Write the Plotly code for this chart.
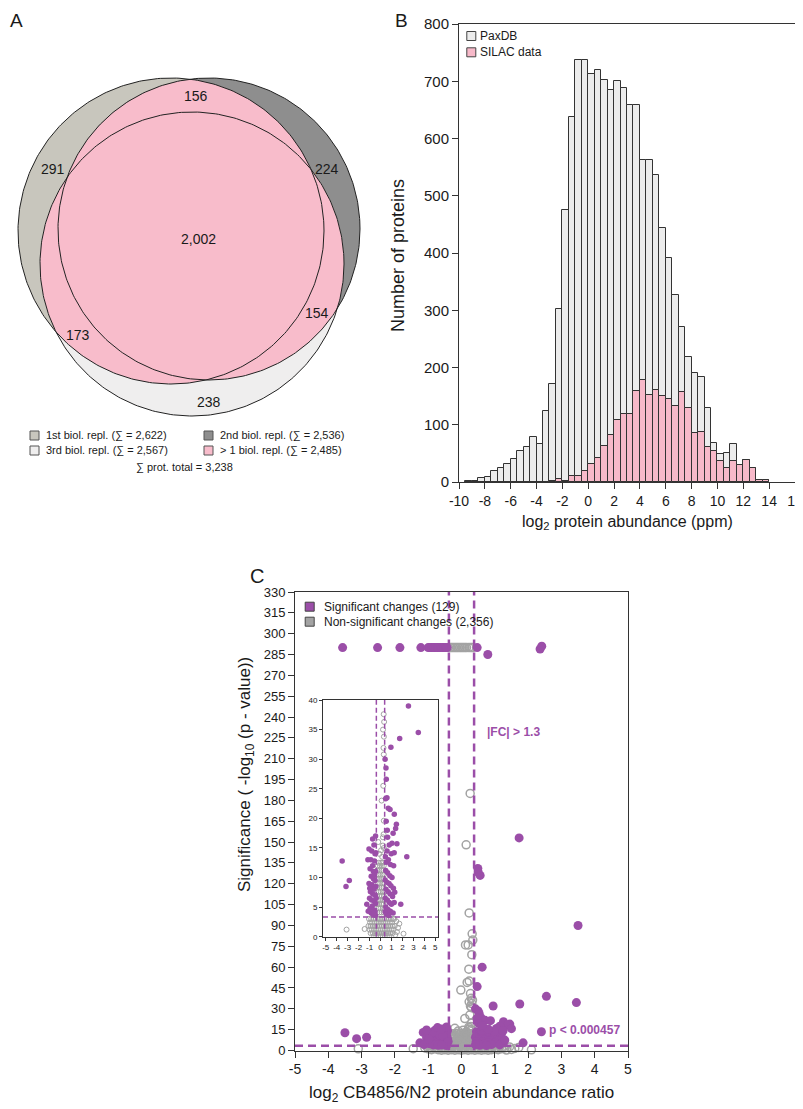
import numpy as np
import plotly.graph_objects as go

# The page body adds an 8px margin; the figure is sized/offset so that
# positions below are in the 803x1109 window's pixel coordinates.
OFF = 8
W, H = 803 - OFF, 1109 - OFF
FONT = "Liberation Sans, Arial, Helvetica, sans-serif"
TXT = "#1a1a1a"

# ---------------- Panel A : Venn diagram ----------------
venn_counts = ["291", "156", "224", "2,002", "173", "154", "238"]
venn_legend = ["1st biol. repl. (∑ = 2,622)", "2nd biol. repl. (∑ = 2,536)",
               "3rd biol. repl. (∑ = 2,567)", "> 1 biol. repl. (∑ = 2,485)"]
venn_total = "∑ prot. total = 3,238"
venn_colors = ["#c8c6bd", "#8e8e8e", "#efeeee", "#f8bccb"]

# ---------------- Panel B : histogram ----------------
bin_left = [-9.5, -9.0, -8.5, -8.0, -7.5, -7.0, -6.5, -6.0, -5.5, -5.0, -4.5, -4.0, -3.5,
            -3.0, -2.5, -2.0, -1.5, -1.0, -0.5, 0.0, 0.5, 1.0, 1.5, 2.0, 2.5, 3.0, 3.5,
            4.0, 4.5, 5.0, 5.5, 6.0, 6.5, 7.0, 7.5, 8.0, 8.5, 9.0, 9.5, 10.0, 10.5, 11.0,
            11.5, 12.0, 12.5, 13.0, 13.5]
paxdb_counts = [2, 2, 7, 8, 20, 24, 31, 40, 55, 62, 79, 67, 124,
                171, 303, 475, 638, 738, 738, 713, 719, 703, 684, 700, 689, 658, 658,
                562, 562, 536, 443, 391, 327, 270, 218, 190, 184, 129, 68, 49, 51, 66,
                30, 39, 25, 4, 3]
silac_counts = [0, 0, 0, 0, 0, 0, 0, 0, 0, 0, 0, 0, 0,
                1, 5, 2, 10, 11, 20, 31, 42, 63, 82, 109, 118, 119, 159,
                178, 152, 160, 151, 145, 133, 158, 129, 86, 87, 62, 54, 37, 25, 37,
                30, 39, 25, 4, 3]
hist_names = ["PaxDB", "SILAC data"]
hist_xticks = [-10, -8, -6, -4, -2, 0, 2, 4, 6, 8, 10, 12, 14, 16]

# ---------------- Panel C : volcano ----------------
sig_x = [-3.57, -2.52, -1.85, -1.22, -1.00, -0.95, -0.90, -0.86, -0.82, -0.77, -0.72, -0.68,
         -0.63, -0.58, -0.53, -0.48, -0.43, 0.47, 0.79, 2.36, 2.41,
         1.73, 3.50, 0.49, 0.50, 0.56, 0.62, 0.47,
         2.55, 3.45, 1.75, 0.95, 0.42, 0.50, 0.53, 0.59, 0.47, 0.71, 0.87, 1.26, 1.45, 1.38,
         1.15, 1.05, 1.50, 2.40, 1.85, -3.50, -3.15, -2.85, -1.15, -1.25, -0.80, -0.50,
         -0.95, -0.72, -0.55, -0.45, -0.85, -0.65, -0.50, -1.05, -0.78, -0.42, -0.60, -0.92,
         -0.70, -0.48, -1.00, -0.82, -0.58, -0.44, -0.75, -0.95, -0.62, -0.50, -0.85, -0.70,
         -0.45, -1.12, -0.65, -0.88, -0.42, -0.55, -0.40, -0.98, -0.60,
         0.45, 0.55, 0.72, 0.90, 1.20, 0.48, 0.65, 0.85, 1.05, 0.42, 0.58, 0.78, 0.95, 1.18,
         0.50, 0.70, 0.88, 1.10, 0.44, 0.62, 0.80, 1.00, 1.25, 0.48, 0.68, 0.90, 1.15, 0.55,
         0.75, 0.42, 1.30, 0.60, 0.98,
         -0.72, -0.45, 0.65, 0.80, 1.25, -1.05, 0.52, 0.62, -0.60]
sig_y = [290, 290, 290, 290, 290, 290, 290, 290, 290, 290, 290, 290,
         290, 290, 290, 290, 290, 290, 285, 289, 291,
         153, 90, 131, 128.5, 126, 60, 46,
         39, 34.5, 33.5, 32, 30, 28.5, 26.6, 23.5, 23.3, 21.7, 21.5, 20.7, 19.0, 18.3,
         17.5, 15.8, 15.7, 13.5, 5.5, 12.8, 8.5, 9.5, 13.0, 5.5, 14.5, 14.0,
         11.5, 12.0, 12.8, 11.0, 10.2, 9.8, 9.5, 9.0, 8.8, 8.5, 8.0, 7.6,
         7.2, 7.0, 6.5, 6.2, 6.0, 5.6, 5.2, 4.8, 4.5, 4.2, 4.0, 3.8,
         3.6, 4.3, 11.0, 13.0, 14.2, 10.5, 6.5, 8.2, 3.9,
         13.5, 12.6, 13.0, 12.2, 12.0, 11.2, 10.8, 10.3, 10.0, 9.6, 9.2, 9.0, 8.6, 8.2,
         8.0, 7.6, 7.2, 6.8, 6.5, 6.2, 5.8, 5.5, 5.8, 5.0, 4.6, 4.3, 4.0, 3.8,
         3.6, 4.2, 7.5, 14.5, 14.0,
         16.5, 17.0, 16.8, 15.5, 14.2, 14.8, 19.5, 18.0, 15.5]

ns_x = [-0.35, -0.30, -0.25, -0.20, -0.15, -0.10, -0.05, 0.00, 0.05, 0.10, 0.15, 0.22, 0.28, 0.33,
        0.26, 0.14, 0.23, 0.32, 0.34, 0.20, 0.12, 0.31, 0.22, 0.23, 0.17, -0.02, 0.27, 0.29,
        0.33, 0.23, 0.31, 0.27, 0.30, 0.25, 0.10, 0.30, 0.28, 0.22, -0.20, 0.22, 0.30, 0.05,
        -0.10, 0.15,
        -0.15, 0.05, 0.20,
        -0.25, -0.05, 0.12, 0.30,
        -0.30, -0.10, 0.08, 0.25,
        -0.20, 0.00, 0.18, 0.33,
        -0.32, -0.12, 0.06, 0.24,
        -0.22, -0.02, 0.15, 0.32,
        -0.30, -0.10, 0.10, 0.28,
        -0.18, 0.02, 0.20, 0.35,
        -0.34, -0.08, 0.12, 0.30,
        -0.24, -0.02, 0.18, 0.34,
        -0.32, -0.12, 0.08, 0.26,
        -0.20, 0.00, 0.20, 0.35,
        -0.30, -0.10, 0.10, 0.30,
        -1.05, -0.85, -0.65, -0.45, -0.25, -0.05, 0.15, 0.35, 0.55, 0.75, 0.95, 1.15,
        -0.95, -0.75, -0.55, -0.35, -0.15, 0.05, 0.25, 0.45, 0.65, 0.85, 1.05,
        -1.10, -0.90, -0.70, -0.50, -0.30, -0.10, 0.10, 0.30, 0.50, 0.70, 0.90, 1.10, 1.30,
        -1.00, -0.80, -0.60, -0.40, -0.20, 0.00, 0.20, 0.40, 0.60, 0.80, 1.00, 1.20,
        -0.90, -0.70, -0.50, -0.30, -0.10, 0.10, 0.30, 0.50, 0.70, 0.90, 1.10,
        -0.60, -0.40, -0.20, 0.00, 0.20, 0.40, 0.60, 0.80,
        -3.10, -1.45, 1.26, 1.44, 1.72, 2.10, 1.50, 1.35, 1.60]
ns_y = [290, 290, 290, 290, 290, 290, 290, 290, 290, 290, 290, 290, 290, 290,
        185, 148, 99, 84, 79.5, 76, 76, 69, 58.5, 50, 49, 43.5, 41, 37.6,
        36.3, 35, 33.8, 31.9, 30.8, 25.5, 23.0, 19.6, 17.3, 16.8, 16.0, 15.4, 15.0, 14.6,
        14.0, 13.5,
        12.5, 12.5, 12.5,
        12.0, 12.0, 12.0, 12.0,
        11.2, 11.2, 11.2, 11.2,
        10.5, 10.5, 10.5, 10.5,
        9.8, 9.8, 9.8, 9.8,
        9.0, 9.0, 9.0, 9.0,
        8.3, 8.3, 8.3, 8.3,
        7.6, 7.6, 7.6, 7.6,
        6.9, 6.9, 6.9, 6.9,
        6.2, 6.2, 6.2, 6.2,
        5.5, 5.5, 5.5, 5.5,
        4.8, 4.8, 4.8, 4.8,
        4.1, 4.1, 4.1, 4.1,
        3.0, 3.0, 3.0, 3.0, 3.0, 3.0, 3.0, 3.0, 3.0, 3.0, 3.0, 3.0,
        2.4, 2.4, 2.4, 2.4, 2.4, 2.4, 2.4, 2.4, 2.4, 2.4, 2.4,
        1.8, 1.8, 1.8, 1.8, 1.8, 1.8, 1.8, 1.8, 1.8, 1.8, 1.8, 1.8, 1.8,
        1.2, 1.2, 1.2, 1.2, 1.2, 1.2, 1.2, 1.2, 1.2, 1.2, 1.2, 1.2,
        0.6, 0.6, 0.6, 0.6, 0.6, 0.6, 0.6, 0.6, 0.6, 0.6, 0.6,
        0.2, 0.2, 0.2, 0.2, 0.2, 0.2, 0.2, 0.2,
        1.2, 1.3, 3.0, 2.6, 2.2, 0.5, 0.8, 0.3, 1.5]
volcano_names = ["Significant changes (129)", "Non-significant changes (2,356)"]
fc_cut = np.log2(1.3)
p_cut = -np.log10(0.000457)
c_xticks = [-5, -4, -3, -2, -1, 0, 1, 2, 3, 4, 5]
c_yticks = list(range(0, 331, 15))
inset_yticks = [0, 5, 10, 15, 20, 25, 30, 35, 40]

PURPLE = "#9b4ea8"
GREY = "#a3a3a3"


def px(x):
    return (x - OFF) / W


def py(y):
    return 1 - (y - OFF) / H


fig = go.Figure()

# ---------- Venn geometry (window-pixel units inside the panel-A axes) ----------
circles = [(171, 231, 153), (209, 229, 151), (192, 264, 152)]


def circle_xy(c, n=361):
    t = np.linspace(0, 2 * np.pi, n)
    return c[0] + c[2] * np.cos(t), c[1] + c[2] * np.sin(t)


def lens_xy(c1, c2, n=1440):
    t = np.linspace(0, 2 * np.pi, n, endpoint=False)
    ax_, ay_ = c1[0] + c1[2] * np.cos(t), c1[1] + c1[2] * np.sin(t)
    bx_, by_ = c2[0] + c2[2] * np.cos(t), c2[1] + c2[2] * np.sin(t)
    ina = (ax_ - c2[0]) ** 2 + (ay_ - c2[1]) ** 2 <= c2[2] ** 2
    inb = (bx_ - c1[0]) ** 2 + (by_ - c1[1]) ** 2 <= c1[2] ** 2
    xs = np.concatenate([ax_[ina], bx_[inb]])
    ys = np.concatenate([ay_[ina], by_[inb]])
    o = np.argsort(np.arctan2(ys - ys.mean(), xs - xs.mean()))
    xs, ys = xs[o], ys[o]
    return np.append(xs, xs[0]), np.append(ys, ys[0])


for c, col in zip(circles, venn_colors[:3]):
    cx, cy = circle_xy(c)
    fig.add_trace(go.Scatter(x=cx, y=cy, mode="lines", fill="toself", fillcolor=col,
                             line=dict(width=0), xaxis="x4", yaxis="y4",
                             hoverinfo="skip", showlegend=False))
for i, j in [(0, 1), (0, 2), (1, 2)]:
    lx, ly = lens_xy(circles[i], circles[j])
    fig.add_trace(go.Scatter(x=lx, y=ly, mode="lines", fill="toself", fillcolor=venn_colors[3],
                             line=dict(width=0), xaxis="x4", yaxis="y4",
                             hoverinfo="skip", showlegend=False))
for c in circles:
    cx, cy = circle_xy(c)
    fig.add_trace(go.Scatter(x=cx, y=cy, mode="lines", line=dict(color="#222", width=1),
                             xaxis="x4", yaxis="y4", hoverinfo="skip", showlegend=False))

venn_label_pos = [(53, 169), (196, 96), (327, 169), (198, 239), (78, 335), (317, 313), (209, 402)]
for lab, (lx, ly) in zip(venn_counts, venn_label_pos):
    fig.add_annotation(x=lx, y=ly, xref="x4", yref="y4", text=lab, showarrow=False,
                       xanchor="center", yanchor="middle",
                       font=dict(size=14, color=TXT, family=FONT))

leg_pos = [(34.5, 435.5), (208.5, 435.5), (34.5, 450.5), (208.5, 450.5)]
for lab, col, (lx, ly) in zip(venn_legend, venn_colors, leg_pos):
    fig.add_shape(type="rect", xref="x4", yref="y4", x0=lx - 4.5, x1=lx + 4.5,
                  y0=ly - 4.5, y1=ly + 4.5, fillcolor=col, line=dict(color="#555", width=1))
    fig.add_annotation(x=lx + 9, y=ly, xref="x4", yref="y4", text=lab, showarrow=False,
                       xanchor="left", yanchor="middle",
                       font=dict(size=11, color=TXT, family=FONT))
fig.add_annotation(x=184, y=467.5, xref="x4", yref="y4", text=venn_total, showarrow=False,
                   xanchor="center", yanchor="middle",
                   font=dict(size=11, color=TXT, family=FONT))

# ---------- Panel B histogram ----------
fig.add_trace(go.Bar(x=bin_left, y=paxdb_counts, width=0.5, offset=0, name=hist_names[0],
                     marker=dict(color="#ececec", line=dict(color="#333", width=1)),
                     xaxis="x", yaxis="y", showlegend=False))
fig.add_trace(go.Bar(x=bin_left, y=silac_counts, width=0.5, offset=0, name=hist_names[1],
                     marker=dict(color="#f7b9c9", line=dict(color="#333", width=1)),
                     xaxis="x", yaxis="y", showlegend=False))
hist_leg = [(471.3, 36, "#ececec"), (471.3, 52.3, "#f7b9c9")]
for (lx, ly, col), lab in zip(hist_leg, hist_names):
    fig.add_shape(type="rect", xref="paper", yref="paper", x0=px(lx - 4.5), x1=px(lx + 4.5),
                  y0=py(ly + 4.5), y1=py(ly - 4.5), fillcolor=col, line=dict(color="#444", width=1))
    fig.add_annotation(x=px(lx + 7), y=py(ly), xref="paper", yref="paper", text=lab,
                       showarrow=False, xanchor="left", yanchor="middle",
                       font=dict(size=12, color=TXT, family=FONT))

# ---------- Panel C volcano ----------
fig.add_trace(go.Scatter(x=ns_x, y=ns_y, mode="markers", name=volcano_names[1],
                         marker=dict(symbol="circle-open", size=8, color=GREY, line=dict(width=1.5)),
                         xaxis="x2", yaxis="y2", cliponaxis=False, showlegend=False))
fig.add_trace(go.Scatter(x=sig_x, y=sig_y, mode="markers", name=volcano_names[0],
                         marker=dict(symbol="circle", size=9, color=PURPLE),
                         xaxis="x2", yaxis="y2", cliponaxis=False, showlegend=False))
fig.add_trace(go.Scatter(x=ns_x, y=ns_y, mode="markers", name=volcano_names[1],
                         marker=dict(symbol="circle-open", size=5, color=GREY, line=dict(width=1)),
                         xaxis="x3", yaxis="y3", showlegend=False))
fig.add_trace(go.Scatter(x=sig_x, y=sig_y, mode="markers", name=volcano_names[0],
                         marker=dict(symbol="circle", size=5.5, color=PURPLE),
                         xaxis="x3", yaxis="y3", showlegend=False))

dash_main = dict(color=PURPLE, width=2.5, dash="8px,5px")
dash_in = dict(color=PURPLE, width=1.5, dash="5px,3px")
for v in (-fc_cut, fc_cut):
    fig.add_shape(type="line", xref="x2", yref="y2", x0=v, x1=v, y0=0, y1=330, line=dash_main)
    fig.add_shape(type="line", xref="x3", yref="y3", x0=v, x1=v, y0=0, y1=40, line=dash_in)
fig.add_shape(type="line", xref="x2", yref="y2", x0=-5, x1=5, y0=p_cut, y1=p_cut, line=dash_main)
fig.add_shape(type="line", xref="x3", yref="y3", x0=-5.25, x1=5.25, y0=p_cut, y1=p_cut, line=dash_in)

c_leg = [(309.7, 606.7, PURPLE), (309.7, 621.7, GREY)]
for (lx, ly, col), lab in zip(c_leg, volcano_names):
    fig.add_shape(type="rect", xref="paper", yref="paper", x0=px(lx - 4.5), x1=px(lx + 4.5),
                  y0=py(ly + 4.5), y1=py(ly - 4.5), fillcolor=col, line=dict(color="#444", width=1))
    fig.add_annotation(x=px(lx + 12), y=py(ly), xref="paper", yref="paper", text=lab,
                       showarrow=False, xanchor="left", yanchor="middle",
                       font=dict(size=12, color=TXT, family=FONT))

fig.add_annotation(x=px(485), y=py(732), xref="paper", yref="paper", text="<b>|FC| > 1.3</b>",
                   showarrow=False, xanchor="left", yanchor="middle",
                   font=dict(size=12, color=PURPLE, family=FONT))
fig.add_annotation(x=px(547), y=py(1030), xref="paper", yref="paper", text="<b>p < 0.000457</b>",
                   showarrow=False, xanchor="left", yanchor="middle",
                   font=dict(size=12, color=PURPLE, family=FONT))


def ann(x, y, text, size, angle=0, color=TXT):
    fig.add_annotation(x=px(x), y=py(y), xref="paper", yref="paper", text=text, showarrow=False,
                       xanchor="center", yanchor="middle", textangle=angle,
                       font=dict(size=size, color=color, family=FONT))


ann(16, 20, "A", 19)
ann(401, 20, "B", 19)
ann(257, 576, "C", 20)
ann(398, 256, "Number of proteins", 18, -90)
ann(627, 522, "log<sub>2</sub> protein abundance (ppm)", 16)
ann(246, 775, "Significance ( -log<sub>10</sub> (p - value))", 17, -90)
ann(461, 1094, "log<sub>2</sub> CB4856/N2 protein abundance ratio", 17)

axis_common = dict(showline=True, linecolor="#333", linewidth=1, mirror=True, ticks="outside",
                   tickcolor="#333", showgrid=False, zeroline=False, automargin=False)

fig.update_layout(
    width=W, height=H, margin=dict(l=0, r=0, t=0, b=0, pad=0, autoexpand=False),
    paper_bgcolor="white", plot_bgcolor="white", barmode="overlay", bargap=0,
    font=dict(family=FONT, color=TXT),
    showlegend=False,
    xaxis=dict(domain=[px(459), px(795)], range=[-10, 16], anchor="y",
               tickvals=hist_xticks, ticktext=[str(t) for t in hist_xticks],
               ticklen=6, tickfont=dict(size=14), **axis_common),
    yaxis=dict(domain=[py(482), py(24)], range=[0, 800], anchor="x", dtick=100,
               ticklen=6, tickfont=dict(size=15), **axis_common),
    xaxis2=dict(domain=[px(295), px(628)], range=[-5, 5], anchor="y2",
                tickvals=c_xticks, ticktext=[str(t) for t in c_xticks],
                ticklen=6, tickfont=dict(size=14), **axis_common),
    yaxis2=dict(domain=[py(1050.5), py(592)], range=[0, 330], anchor="x2",
                tickvals=c_yticks, ticktext=[str(t) for t in c_yticks],
                ticklen=6, tickfont=dict(size=13), **axis_common),
    xaxis3=dict(domain=[px(323), px(438)], range=[-5.25, 5.25], anchor="y3",
                tickvals=c_xticks, ticktext=[str(t) for t in c_xticks],
                ticklen=3, tickfont=dict(size=8), **axis_common),
    yaxis3=dict(domain=[py(936.7), py(700)], range=[0, 40], anchor="x3",
                tickvals=inset_yticks, ticktext=[str(t) for t in inset_yticks],
                ticklen=3, tickfont=dict(size=8), **axis_common),
    xaxis4=dict(domain=[px(OFF), px(400)], range=[OFF, 400], anchor="y4", visible=False,
                automargin=False),
    yaxis4=dict(domain=[py(480), py(OFF)], range=[480, OFF], anchor="x4", visible=False,
                automargin=False),
)

fig.write_html("out.html")
